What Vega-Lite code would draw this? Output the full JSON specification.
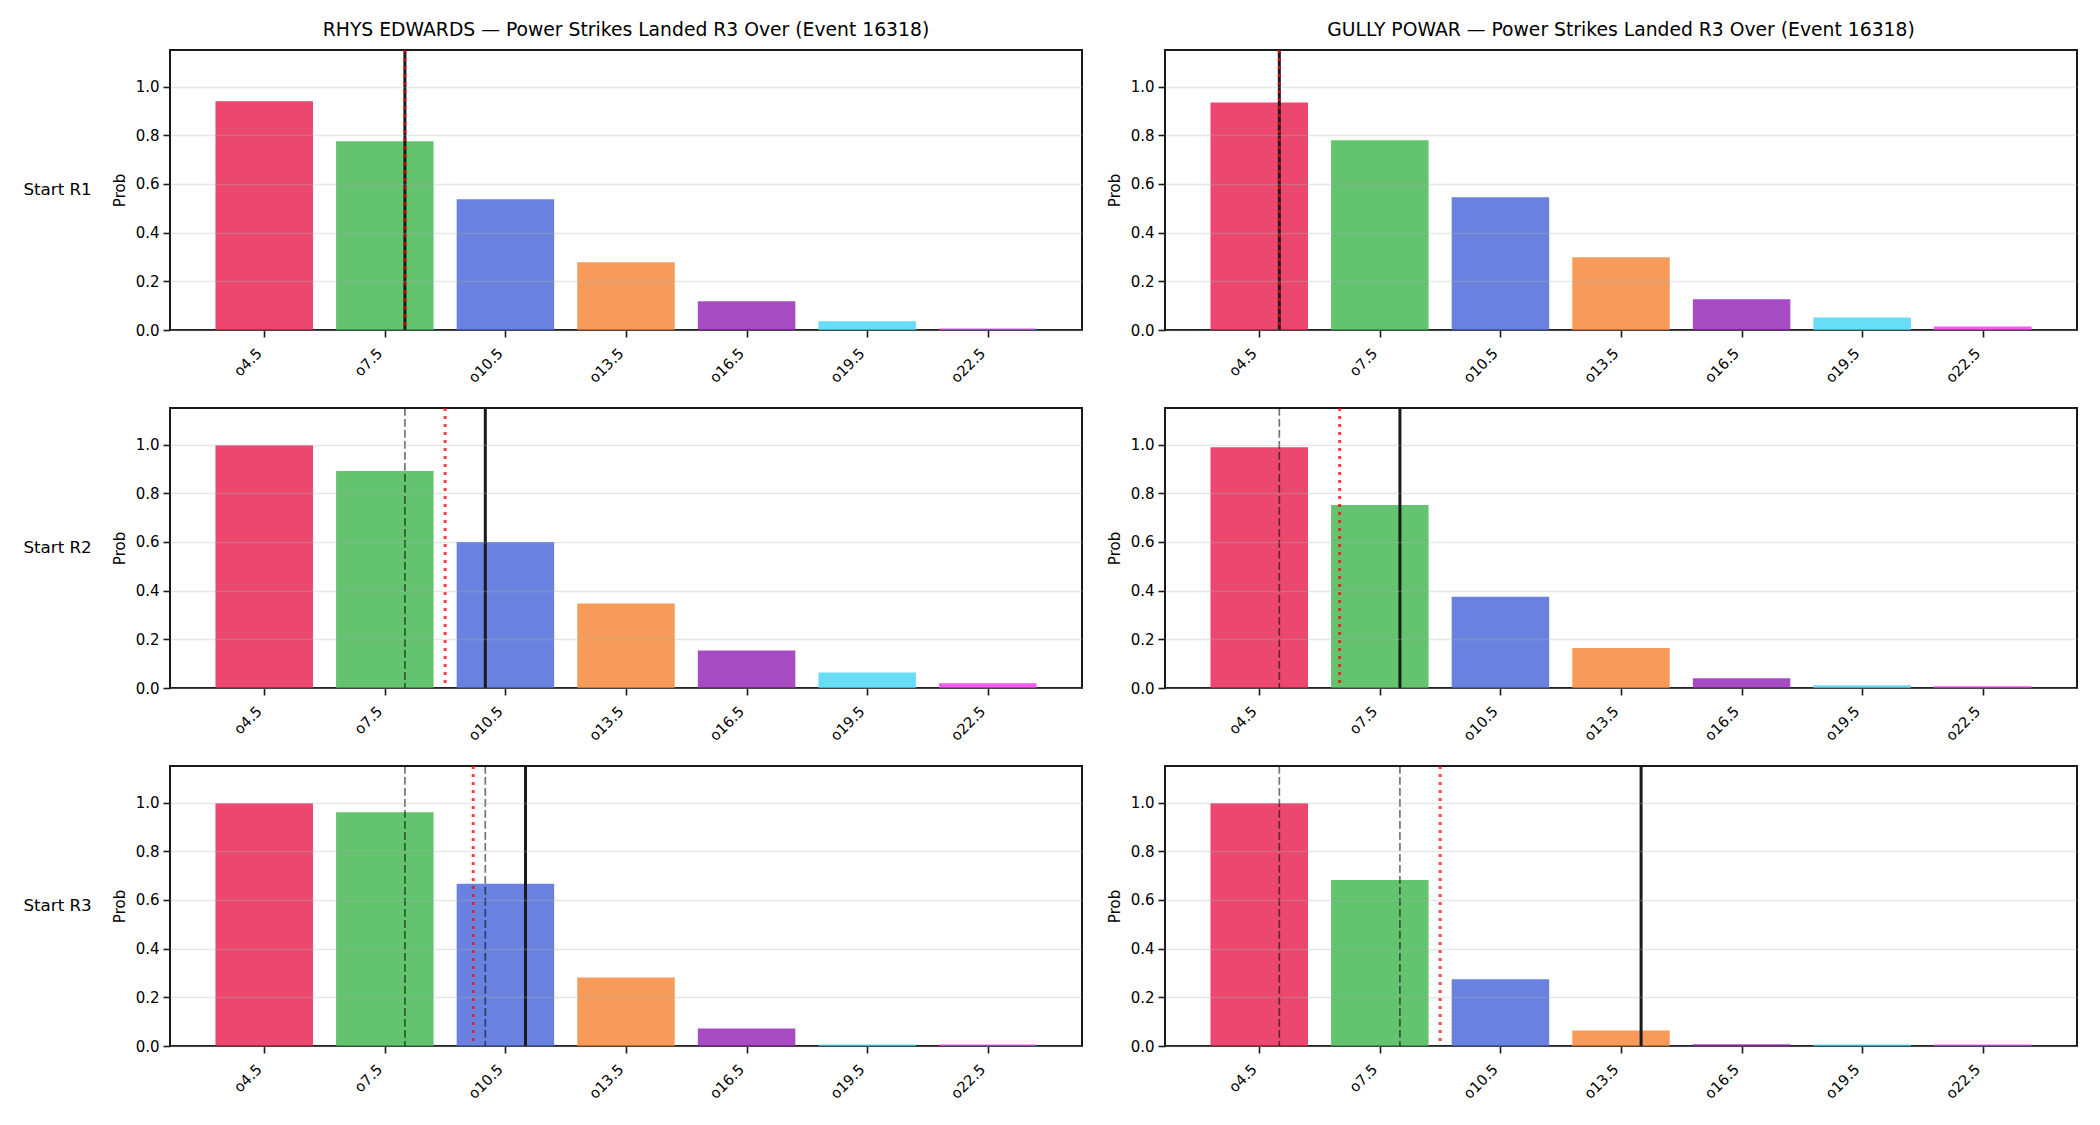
{
  "$schema": "https://vega.github.io/schema/vega-lite/v6.json",
  "background": "white",
  "padding": {"left": 23, "top": 21, "right": 20, "bottom": 10},
  "config": {
    "font": "DejaVu Sans",
    "view": {"stroke": "#1a1a1a", "strokeWidth": 2},
    "axis": {"labelColor": "#000", "titleColor": "#000", "tickColor": "#1a1a1a", "domain": false}
  },
  "data": {
    "values": [
      {"fighter": "RHYS EDWARDS", "round": "Start R1", "line": "o4.5", "threshold": 4.5, "prob": 0.94},
      {"fighter": "RHYS EDWARDS", "round": "Start R1", "line": "o7.5", "threshold": 7.5, "prob": 0.775},
      {"fighter": "RHYS EDWARDS", "round": "Start R1", "line": "o10.5", "threshold": 10.5, "prob": 0.537},
      {"fighter": "RHYS EDWARDS", "round": "Start R1", "line": "o13.5", "threshold": 13.5, "prob": 0.278},
      {"fighter": "RHYS EDWARDS", "round": "Start R1", "line": "o16.5", "threshold": 16.5, "prob": 0.118},
      {"fighter": "RHYS EDWARDS", "round": "Start R1", "line": "o19.5", "threshold": 19.5, "prob": 0.036},
      {"fighter": "RHYS EDWARDS", "round": "Start R1", "line": "o22.5", "threshold": 22.5, "prob": 0.006},
      {"fighter": "RHYS EDWARDS", "round": "Start R2", "line": "o4.5", "threshold": 4.5, "prob": 0.997},
      {"fighter": "RHYS EDWARDS", "round": "Start R2", "line": "o7.5", "threshold": 7.5, "prob": 0.891},
      {"fighter": "RHYS EDWARDS", "round": "Start R2", "line": "o10.5", "threshold": 10.5, "prob": 0.6},
      {"fighter": "RHYS EDWARDS", "round": "Start R2", "line": "o13.5", "threshold": 13.5, "prob": 0.347},
      {"fighter": "RHYS EDWARDS", "round": "Start R2", "line": "o16.5", "threshold": 16.5, "prob": 0.154},
      {"fighter": "RHYS EDWARDS", "round": "Start R2", "line": "o19.5", "threshold": 19.5, "prob": 0.064},
      {"fighter": "RHYS EDWARDS", "round": "Start R2", "line": "o22.5", "threshold": 22.5, "prob": 0.019},
      {"fighter": "RHYS EDWARDS", "round": "Start R3", "line": "o4.5", "threshold": 4.5, "prob": 0.997},
      {"fighter": "RHYS EDWARDS", "round": "Start R3", "line": "o7.5", "threshold": 7.5, "prob": 0.96},
      {"fighter": "RHYS EDWARDS", "round": "Start R3", "line": "o10.5", "threshold": 10.5, "prob": 0.666},
      {"fighter": "RHYS EDWARDS", "round": "Start R3", "line": "o13.5", "threshold": 13.5, "prob": 0.281},
      {"fighter": "RHYS EDWARDS", "round": "Start R3", "line": "o16.5", "threshold": 16.5, "prob": 0.072},
      {"fighter": "RHYS EDWARDS", "round": "Start R3", "line": "o19.5", "threshold": 19.5, "prob": 0.006},
      {"fighter": "RHYS EDWARDS", "round": "Start R3", "line": "o22.5", "threshold": 22.5, "prob": 0.006},
      {"fighter": "GULLY POWAR", "round": "Start R1", "line": "o4.5", "threshold": 4.5, "prob": 0.934},
      {"fighter": "GULLY POWAR", "round": "Start R1", "line": "o7.5", "threshold": 7.5, "prob": 0.779},
      {"fighter": "GULLY POWAR", "round": "Start R1", "line": "o10.5", "threshold": 10.5, "prob": 0.545},
      {"fighter": "GULLY POWAR", "round": "Start R1", "line": "o13.5", "threshold": 13.5, "prob": 0.299},
      {"fighter": "GULLY POWAR", "round": "Start R1", "line": "o16.5", "threshold": 16.5, "prob": 0.126},
      {"fighter": "GULLY POWAR", "round": "Start R1", "line": "o19.5", "threshold": 19.5, "prob": 0.051},
      {"fighter": "GULLY POWAR", "round": "Start R1", "line": "o22.5", "threshold": 22.5, "prob": 0.014},
      {"fighter": "GULLY POWAR", "round": "Start R2", "line": "o4.5", "threshold": 4.5, "prob": 0.989},
      {"fighter": "GULLY POWAR", "round": "Start R2", "line": "o7.5", "threshold": 7.5, "prob": 0.752},
      {"fighter": "GULLY POWAR", "round": "Start R2", "line": "o10.5", "threshold": 10.5, "prob": 0.375},
      {"fighter": "GULLY POWAR", "round": "Start R2", "line": "o13.5", "threshold": 13.5, "prob": 0.164},
      {"fighter": "GULLY POWAR", "round": "Start R2", "line": "o16.5", "threshold": 16.5, "prob": 0.04},
      {"fighter": "GULLY POWAR", "round": "Start R2", "line": "o19.5", "threshold": 19.5, "prob": 0.011},
      {"fighter": "GULLY POWAR", "round": "Start R2", "line": "o22.5", "threshold": 22.5, "prob": 0.007},
      {"fighter": "GULLY POWAR", "round": "Start R3", "line": "o4.5", "threshold": 4.5, "prob": 0.997},
      {"fighter": "GULLY POWAR", "round": "Start R3", "line": "o7.5", "threshold": 7.5, "prob": 0.682},
      {"fighter": "GULLY POWAR", "round": "Start R3", "line": "o10.5", "threshold": 10.5, "prob": 0.274},
      {"fighter": "GULLY POWAR", "round": "Start R3", "line": "o13.5", "threshold": 13.5, "prob": 0.064},
      {"fighter": "GULLY POWAR", "round": "Start R3", "line": "o16.5", "threshold": 16.5, "prob": 0.007},
      {"fighter": "GULLY POWAR", "round": "Start R3", "line": "o19.5", "threshold": 19.5, "prob": 0.006},
      {"fighter": "GULLY POWAR", "round": "Start R3", "line": "o22.5", "threshold": 22.5, "prob": 0.006},
      {"fighter": "RHYS EDWARDS", "round": "Start R1", "marker": "projection", "strikes": 8.0},
      {"fighter": "RHYS EDWARDS", "round": "Start R1", "marker": "pace", "strikes": 8.0},
      {"fighter": "RHYS EDWARDS", "round": "Start R2", "marker": "earlier", "strikes": 8.0},
      {"fighter": "RHYS EDWARDS", "round": "Start R2", "marker": "pace", "strikes": 9.0},
      {"fighter": "RHYS EDWARDS", "round": "Start R2", "marker": "projection", "strikes": 10.0},
      {"fighter": "RHYS EDWARDS", "round": "Start R3", "marker": "earlier", "strikes": 8.0},
      {"fighter": "RHYS EDWARDS", "round": "Start R3", "marker": "earlier", "strikes": 10.0},
      {"fighter": "RHYS EDWARDS", "round": "Start R3", "marker": "pace", "strikes": 9.7},
      {"fighter": "RHYS EDWARDS", "round": "Start R3", "marker": "projection", "strikes": 11.0},
      {"fighter": "GULLY POWAR", "round": "Start R1", "marker": "projection", "strikes": 5.0},
      {"fighter": "GULLY POWAR", "round": "Start R1", "marker": "pace", "strikes": 5.0},
      {"fighter": "GULLY POWAR", "round": "Start R2", "marker": "earlier", "strikes": 5.0},
      {"fighter": "GULLY POWAR", "round": "Start R2", "marker": "pace", "strikes": 6.5},
      {"fighter": "GULLY POWAR", "round": "Start R2", "marker": "projection", "strikes": 8.0},
      {"fighter": "GULLY POWAR", "round": "Start R3", "marker": "earlier", "strikes": 5.0},
      {"fighter": "GULLY POWAR", "round": "Start R3", "marker": "earlier", "strikes": 8.0},
      {"fighter": "GULLY POWAR", "round": "Start R3", "marker": "pace", "strikes": 9.0},
      {"fighter": "GULLY POWAR", "round": "Start R3", "marker": "projection", "strikes": 14.0}
    ]
  },
  "facet": {
    "column": {
      "field": "fighter", "type": "nominal", "sort": ["RHYS EDWARDS", "GULLY POWAR"],
      "header": {"title": null, "labelExpr": "datum.value + ' — Power Strikes Landed R3 Over (Event 16318)'", "labelFontSize": 18.75, "labelColor": "#000", "labelPadding": 10}
    },
    "row": {
      "field": "round", "type": "nominal",
      "header": {"title": null, "labelAngle": 0, "labelOrient": "left", "labelAlign": "right", "labelFontSize": 16.7, "labelColor": "#000", "labelPadding": 10}
    }
  },
  "spacing": {"row": 78, "column": 83},
  "bounds": "flush",
  "resolve": {"axis": {"x": "independent", "y": "independent"}},
  "spec": {
    "width": 912,
    "height": 280,
    "layer": [
      {
        "transform": [{"filter": "isValid(datum.prob)"}],
        "mark": {"type": "bar", "width": 97.5, "opacity": 0.8},
        "encoding": {
          "x": {
            "field": "threshold", "type": "quantitative",
            "scale": {"domain": [2.28, 24.72], "nice": false, "zero": false},
            "axis": {"title": null, "values": [4.5, 7.5, 10.5, 13.5, 16.5, 19.5, 22.5], "labelExpr": "'o' + format(datum.value, '.1f')", "labelAngle": -45, "labelAlign": "right", "labelBaseline": "alphabetic", "labelFontSize": 14.6, "labelPadding": 17, "labelOffset": -2, "tickSize": 7, "tickWidth": 1.6, "grid": false}
          },
          "y": {
            "field": "prob", "type": "quantitative",
            "scale": {"domain": [0, 1.15], "nice": false, "zero": true},
            "axis": {"title": "Prob", "titleFontSize": 15, "titleFontWeight": "normal", "titlePadding": 8, "values": [0, 0.2, 0.4, 0.6, 0.8, 1.0], "format": ".1f", "labelFontSize": 15, "labelPadding": 4, "tickSize": 7, "tickWidth": 1.6, "grid": true, "gridColor": "#b0b0b0", "gridOpacity": 0.3, "gridWidth": 1.5, "zindex": 1}
          },
          "color": {
            "field": "line", "type": "nominal", "legend": null,
            "scale": {"domain": ["o4.5", "o7.5", "o10.5", "o13.5", "o16.5", "o19.5", "o22.5"], "range": ["#e6194b", "#3cb44b", "#4363d8", "#f58231", "#911eb4", "#42d4f4", "#f032e6"]}
          }
        }
      },
      {
        "transform": [{"filter": "datum.marker === 'earlier'"}],
        "mark": {"type": "rule", "color": "#000", "opacity": 0.55, "strokeWidth": 1.7, "strokeDash": [7.7, 3.3]},
        "encoding": {"x": {"field": "strikes", "type": "quantitative"}}
      },
      {
        "transform": [{"filter": "datum.marker === 'projection'"}],
        "mark": {"type": "rule", "color": "#1a1a1a", "strokeWidth": 3},
        "encoding": {"x": {"field": "strikes", "type": "quantitative"}}
      },
      {
        "transform": [{"filter": "datum.marker === 'pace'"}],
        "mark": {"type": "rule", "color": "#ff0000", "opacity": 0.75, "strokeWidth": 3, "strokeDash": [3, 5]},
        "encoding": {"x": {"field": "strikes", "type": "quantitative"}}
      }
    ]
  }
}
